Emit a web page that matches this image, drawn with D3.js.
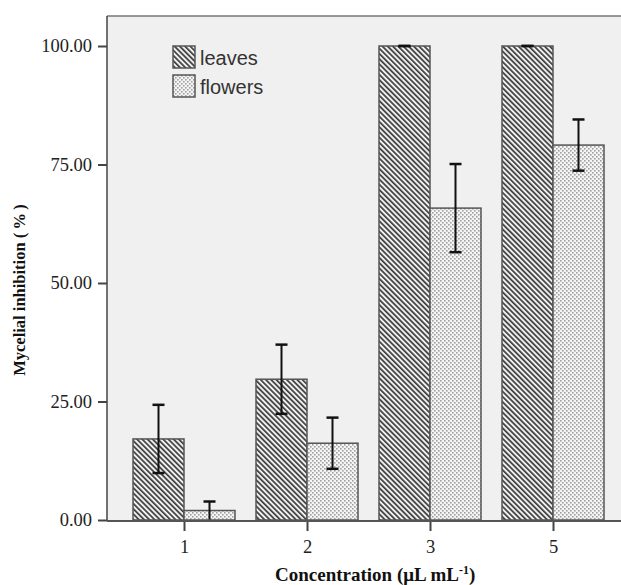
<!DOCTYPE html>
<html>
<head>
<meta charset="utf-8">
<script src="https://cdn.jsdelivr.net/npm/d3@7"></script>
<style>
  body { margin: 0; background: #fff; }
</style>
</head>
<body>
<div id="chart"></div>
<script>
// data
const categories = ["1", "2", "3", "5"];
const leaves = [17.1, 29.7, 100, 100];
const leavesErr = [7.2, 7.3, 0.0, 0.0];
const flowers = [2.0, 16.2, 65.8, 79.1];
const flowersErr = [1.9, 5.4, 9.3, 5.4];
const yTicks = [0, 25, 50, 75, 100];

const W = 621, H = 585;
const plot = {left: 107, top: 16, right: 621, bottom: 521};
const barW = 51;
const serif = "Liberation Serif, Times New Roman, serif";

const svg = d3.select("#chart").append("svg")
    .attr("width", W).attr("height", H);

// patterns
const defs = svg.append("defs");
const hatch = defs.append("pattern")
    .attr("id", "hatch")
    .attr("patternUnits", "userSpaceOnUse")
    .attr("width", 3.7).attr("height", 10)
    .attr("patternTransform", "rotate(-45)");
hatch.append("rect").attr("width", 3.7).attr("height", 10).attr("fill", "#f0f0f0");
hatch.append("rect").attr("width", 1.7).attr("height", 10).attr("fill", "#3c3c3c");

const dots = defs.append("pattern")
    .attr("id", "dots")
    .attr("patternUnits", "userSpaceOnUse")
    .attr("width", 4).attr("height", 4);
dots.append("rect").attr("width", 4).attr("height", 4).attr("fill", "#f4f4f4");
dots.append("rect").attr("x", 0).attr("y", 0).attr("width", 1.6).attr("height", 1.6).attr("fill", "#a0a0a0");
dots.append("rect").attr("x", 2).attr("y", 2).attr("width", 1.6).attr("height", 1.6).attr("fill", "#a0a0a0");

// background of plot area
svg.append("rect")
    .attr("x", plot.left).attr("y", plot.top)
    .attr("width", plot.right - plot.left)
    .attr("height", plot.bottom - plot.top)
    .attr("fill", "#f0f0f0");
svg.append("line")
    .attr("x1", plot.left).attr("x2", plot.right)
    .attr("y1", plot.top).attr("y2", plot.top)
    .attr("stroke", "#777").attr("stroke-width", 1.5);

const x = d3.scalePoint().domain(categories).range([184, 553]);
const y = d3.scaleLinear().domain([0, 100]).range([520, 46]);

const series = [
  {name: "leaves", vals: leaves, err: leavesErr, fill: "url(#hatch)", dx: -barW},
  {name: "flowers", vals: flowers, err: flowersErr, fill: "url(#dots)", dx: 0}
];

series.forEach(s => {
  const g = svg.append("g");
  g.selectAll("rect").data(categories).join("rect")
    .attr("x", d => x(d) + s.dx)
    .attr("y", (d, i) => y(s.vals[i]))
    .attr("width", barW)
    .attr("height", (d, i) => y(0) - y(s.vals[i]))
    .attr("fill", s.fill)
    .attr("stroke", "#555")
    .attr("stroke-width", 1.5);
});

// error bars
series.forEach(s => {
  const g = svg.append("g").attr("stroke", "#111").attr("stroke-width", 2);
  categories.forEach((c, i) => {
    const cx = x(c) + s.dx + barW / 2;
    const hi = y(s.vals[i] + s.err[i]);
    const lo = y(Math.max(0, s.vals[i] - s.err[i]));
    g.append("line").attr("x1", cx).attr("x2", cx).attr("y1", hi).attr("y2", lo);
    g.append("line").attr("x1", cx - 6).attr("x2", cx + 6).attr("y1", hi).attr("y2", hi).attr("stroke-width", 2.5);
    if (s.vals[i] - s.err[i] > 0.5)
      g.append("line").attr("x1", cx - 6).attr("x2", cx + 6).attr("y1", lo).attr("y2", lo).attr("stroke-width", 2.5);
  });
});

// axes
const yAxis = svg.append("g")
    .attr("transform", `translate(${plot.left},0)`)
    .call(d3.axisLeft(y).tickValues(yTicks).tickFormat(d3.format(".2f")).tickSize(9).tickSizeOuter(0));
yAxis.select(".domain").remove();
yAxis.append("line")
    .attr("x1", 0).attr("x2", 0).attr("y1", plot.top).attr("y2", plot.bottom)
    .attr("stroke", "#444").attr("stroke-width", 1.5);
yAxis.selectAll(".tick line").attr("stroke", "#444").attr("stroke-width", 2);
yAxis.selectAll(".tick text")
    .attr("font-family", serif)
    .attr("font-size", 18.5).attr("fill", "#222").attr("x", -15);

const xAxis = svg.append("g")
    .attr("transform", `translate(0,${plot.bottom})`)
    .call(d3.axisBottom(x).tickSize(10).tickSizeOuter(0));
xAxis.select(".domain").remove();
xAxis.append("line")
    .attr("x1", plot.left).attr("x2", plot.right)
    .attr("stroke", "#555").attr("stroke-width", 2);
xAxis.selectAll(".tick line").attr("stroke", "#444").attr("stroke-width", 2);
xAxis.selectAll(".tick text")
    .attr("font-family", serif)
    .attr("font-size", 18.5).attr("fill", "#222").attr("y", 18.5);

// axis titles
svg.append("text")
    .attr("transform", "translate(25,290) rotate(-90)")
    .attr("text-anchor", "middle")
    .attr("font-family", serif)
    .attr("font-weight", "bold").attr("font-size", 16.5).attr("fill", "#111")
    .text("Mycelial inhibition (\u2009%\u2009)");

const xt = svg.append("text")
    .attr("x", 275).attr("y", 581)
    .attr("font-family", serif)
    .attr("font-weight", "bold").attr("font-size", 19).attr("fill", "#111");
xt.append("tspan").text("Concentration (μL mL");
xt.append("tspan").attr("baseline-shift", "super").attr("font-size", 12).text("-1");
xt.append("tspan").text(")");

// legend
const legend = svg.append("g").attr("transform", "translate(173,46)");
series.forEach((s, i) => {
  const row = legend.append("g").attr("transform", `translate(0,${i * 29})`);
  row.append("rect").attr("width", 22).attr("height", 22)
    .attr("fill", s.fill).attr("stroke", "#555").attr("stroke-width", 1.5);
  row.append("text").attr("x", 27).attr("y", 19)
    .attr("font-family", "Liberation Sans Narrow, Liberation Sans, Arial, sans-serif")
    .attr("font-size", 20).attr("fill", "#333")
    .text(s.name);
});
</script>
</body>
</html>
